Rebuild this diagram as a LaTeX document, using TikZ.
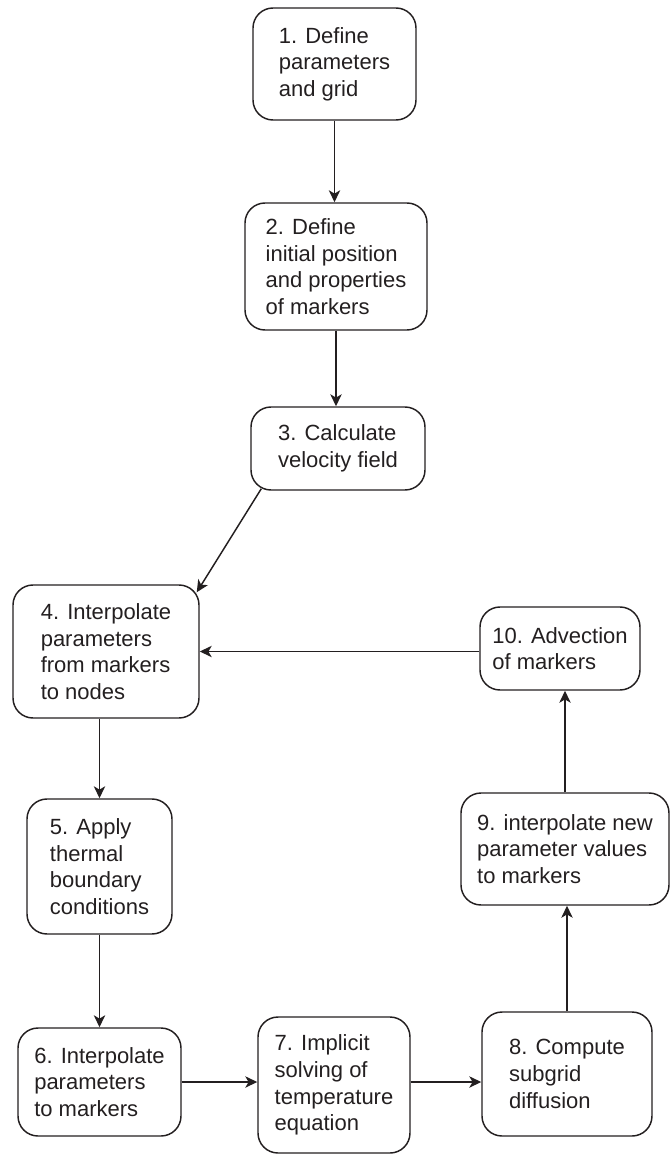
\documentclass[tikz,border=0pt]{standalone}
\usepackage{fontspec}
\setmainfont{Liberation Sans}
\usetikzlibrary{positioning}
\usetikzlibrary{arrows.meta}
\definecolor{ink}{RGB}{35,31,32}

\begin{document}
\begin{tikzpicture}[x=0.75pt,y=-0.75pt,>={Stealth[length=9pt,width=8.5pt,inset=2.5pt]},
                line width=1.1pt,color=ink,
                step node/.style={rectangle,draw,rounded corners=15pt,align=left,
                  inner sep=2pt,font=\fontsize{16.5}{20}\selectfont}]

  \useasboundingbox (0,0) rectangle (671,1156);

  \node[step node,minimum width=122.25pt,minimum height=84pt] (1) at (334.5,64)
    {1. Define\\parameters\\and grid};
  \node[step node,minimum width=136.5pt,minimum height=95.25pt] (2) at (336,266.5)
    {2. Define\\initial position\\and properties\\of markers};
  \node[step node,minimum width=130.5pt,minimum height=62.25pt] (3) at (338,448.5)
    {3. Calculate\\velocity field};
  \node[step node,minimum width=139.5pt,minimum height=99.75pt] (4) at (106,651.5)
    {4. Interpolate\\parameters\\from markers\\to nodes};
  \node[step node,minimum width=108.75pt,minimum height=101.25pt] (5) at (99.5,866.5)
    {5. Apply\\thermal\\boundary\\conditions};
  \node[step node,minimum width=122.25pt,minimum height=81pt] (6) at (99.5,1082)
    {6. Interpolate\\parameters\\to markers};
  \node[step node,minimum width=114pt,minimum height=102pt] (7) at (334,1085)
    {7. Implicit\\solving of\\temperature\\equation};
  \node[step node,minimum width=127.5pt,minimum height=93pt] (8) at (567,1074)
    {8. Compute\\subgrid\\diffusion};
  \node[step node,minimum width=156pt,minimum height=84pt] (9) at (565,849)
    {9. interpolate new\\parameter values\\to markers};
  \node[step node,minimum width=120pt,minimum height=62.25pt] (10) at (560,648.5)
    {10. Advection\\of markers};

  \path[->]
    (1.south) edge (1.south |- 2.north)
    (2.south) edge (2.south |- 3.north)
    ([xshift=8.25pt,yshift=1.5pt]3.south west) edge ([xshift=-2.25pt,yshift=-6pt]4.north east)
    (5.north |- 4.south) edge (5.north)
    (5) edge (6)
    (6.east) edge (7.west |- 6.east)
    (7.east |- 6) edge (8.west |- 6)
    (8.north) edge (8.north |- 9.south)
    (9.north) edge (9.north |- 10.south)
    (10.west |- 4) edge (4.east);

\end{tikzpicture}
\end{document}
